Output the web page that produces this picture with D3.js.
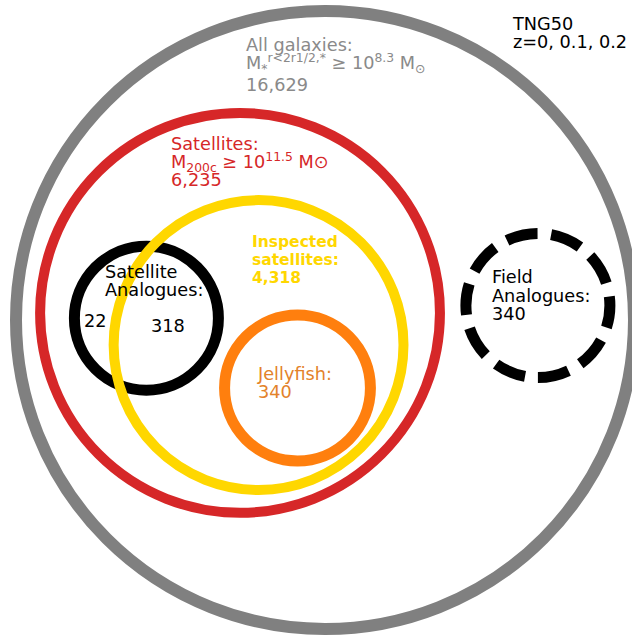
<!DOCTYPE html>
<html>
<head>
<meta charset="utf-8">
<script src="https://cdn.jsdelivr.net/npm/d3@7"></script>
<style>
  html, body { margin: 0; padding: 0; background: #fff; }
  svg { display: block; font-family: "DejaVu Sans", sans-serif; }
</style>
</head>
<body>
<svg id="chart" width="632" height="635"></svg>
<script>
// Galaxy samples and their sizes
const sampleNames  = ["All galaxies", "Satellites", "Inspected satellites", "Satellite Analogues", "Jellyfish", "Field Analogues"];
const sampleCounts = [16629, 6235, 4318, 340, 340, 340];
// Satellite analogues outside / inside the inspected sample
const analogueSplit = [22, 318];
// Circle centres and radii, in units of the all-galaxies radius
const circleX = [0, -0.275, -0.215, -0.578, -0.089, 0.689];
const circleY = [0, 0.023, -0.081, 0.006, -0.220, 0.047];
const circleR = [1, 0.647, 0.469, 0.233, 0.236, 0.233];
// Snapshot redshifts
const redshifts = [0, 0.1, 0.2];
// Selection thresholds (log10 of solar masses)
const logStellarMassMin = 8.3;
const logHaloMassMin = 11.5;

const fmt = d3.format(",");

// ---- styling ----
const ringColors = ["#808080", "#d62728", "#ffd700", "#000000", "#ff7f0e", "#000000"];
const textColors = ["#8a8a8a", "#d62728", "#ffd700", "#000000", "#e3822a", "#000000"];
const ringWidth = [12, 10, 10, 11, 11, 11];
// drawing order: the inspected-satellites ring lies over the analogue ring
const drawOrder = [0, 1, 3, 2, 4, 5];
const fontSize = 17.7;
const lineGap = 18;

const svg = d3.select("#chart");

// data units -> pixels
const x = d3.scaleLinear().domain([-1, 1]).range([16, 634]);
const y = d3.scaleLinear().domain([-1, 1]).range([629, 11]);
const rScale = d3.scaleLinear().domain([0, 1]).range([0, x(1) - x(0)]);

const rings = svg.append("g");
drawOrder.forEach(i => {
  const name = sampleNames[i];
  const cx = x(circleX[i]), cy = y(circleY[i]), r = rScale(circleR[i]);
  if (name === "Field Analogues") {
    // dashed ring, path starting at the bottom and running anticlockwise
    const p = d3.path();
    p.moveTo(cx, cy + r);
    p.arc(cx, cy, r, Math.PI / 2, Math.PI / 2 - 2 * Math.PI, true);
    const circ = 2 * Math.PI * r;
    const period = circ / 10;
    rings.append("path")
      .attr("d", p.toString())
      .attr("fill", "none")
      .attr("stroke", ringColors[i])
      .attr("stroke-width", ringWidth[i])
      .attr("stroke-dasharray", `${period * 3.7 / 5.3} ${period * 1.6 / 5.3}`);
  } else {
    rings.append("circle")
      .attr("cx", cx).attr("cy", cy).attr("r", r)
      .attr("fill", "none")
      .attr("stroke", ringColors[i])
      .attr("stroke-width", ringWidth[i]);
  }
});

// ---- labels ----
// each line is a list of [text, shift] runs; shift: 0 normal, 1 superscript, -1 subscript
function label(px, py, lines, color, opts = {}) {
  const size = opts.size || fontSize;
  const gap = opts.gap || lineGap;
  const t = svg.append("text")
    .attr("x", px).attr("y", py)
    .attr("fill", color)
    .attr("font-size", size)
    .attr("font-weight", opts.weight || "normal");
  lines.forEach((runs, li) => {
    if (typeof runs === "string") runs = [[runs, 0]];
    let cur = 0;
    runs.forEach(([txt, shift], ri) => {
      const target = shift === 1 ? -7 : shift === -1 ? 3.5 : 0;
      const ts = t.append("tspan").text(txt);
      if (ri === 0) {
        ts.attr("x", px).attr("dy", (li === 0 ? 0 : gap) + target);
      } else {
        ts.attr("dy", target - cur);
      }
      if (shift !== 0) ts.attr("font-size", size * 0.7);
      cur = target;
    });
    // back to the line baseline before the next line
    if (cur !== 0) t.append("tspan").attr("dy", -cur).text("");
  });
  return t;
}

label(513, 30, ["TNG50", "z=" + redshifts.join(", ")], "#000");

label(246, 51, [
  sampleNames[0] + ":",
  [["M", 0], ["*", -1], ["r<2r1/2,*", 1], [" \u2265 10", 0], [String(logStellarMassMin), 1], [" M", 0], ["\u2299", -1]],
  fmt(sampleCounts[0])
], textColors[0]);

label(171, 150, [
  sampleNames[1] + ":",
  [["M", 0], ["200c", -1], [" \u2265 10", 0], [String(logHaloMassMin), 1], [" M\u2299", 0]],
  fmt(sampleCounts[1])
], textColors[1]);

label(252, 247, ["Inspected", "satellites:", fmt(sampleCounts[2])], textColors[2], { weight: "bold", size: 15.5 });

label(105, 278, ["Satellite", "Analogues:"], textColors[3]);
label(84, 327, [fmt(analogueSplit[0])], textColors[3]);
label(151, 332, [fmt(analogueSplit[1])], textColors[3]);

label(258, 380, [sampleNames[4] + ":", fmt(sampleCounts[4])], textColors[4]);

label(492, 283, ["Field", "Analogues:", fmt(sampleCounts[5])], textColors[5], { gap: 18.5 });
</script>
</body>
</html>
